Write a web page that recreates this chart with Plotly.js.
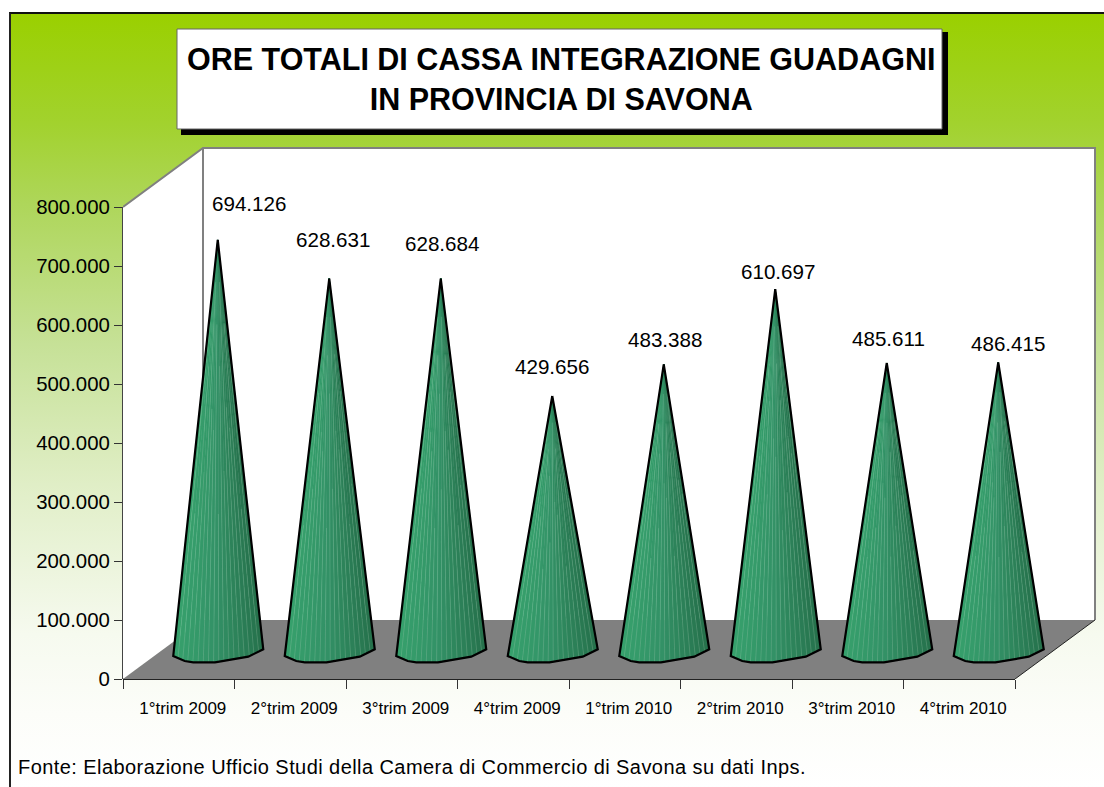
<!DOCTYPE html>
<html>
<head>
<meta charset="utf-8">
<script src="https://cdn.plot.ly/plotly-3.0.1.min.js"></script>
<style>
html,body{margin:0;padding:0;background:#fff;overflow:hidden}
#bg{position:absolute;left:9px;top:12px;width:1095px;height:775px;box-sizing:border-box;border-left:2px solid #222;border-top:2px solid #111;
background:linear-gradient(to bottom,#9ad000 0px,#a2d22e 110px,#aed65a 190px,#c6e197 330px,#e0eec6 470px,#f6faef 620px,#fcfdf9 700px,#ffffff 775px)}
#chart{position:absolute;left:0;top:0;width:1104px;height:787px}
#chart .annotation[data-index="8"] text{letter-spacing:0.43px}
</style>
</head>
<body>
<div id="bg"></div>
<div id="chart"></div>
<script>
// ---- data ----
const categories = ["1°trim 2009","2°trim 2009","3°trim 2009","4°trim 2009","1°trim 2010","2°trim 2010","3°trim 2010","4°trim 2010"];
const values = [694126,628631,628684,429656,483388,610697,485611,486415];
const yTicks = [0,100000,200000,300000,400000,500000,600000,700000,800000];
const titleText = "ORE TOTALI DI CASSA INTEGRAZIONE GUADAGNI<br>IN PROVINCIA DI SAVONA";
const sourceText = "Fonte: Elaborazione Ufficio Studi della Camera di Commercio di Savona su dati Inps.";

// ---- label nudges (pixels from cone tip) ----
const labelDx = [31,3.5,1,0,1,2.5,2,9.5];
const labelDy = [36,39,35,30,25,18,24,19.5];

// ---- geometry of the fake 3D box ----
const PX_X = 111.5, PX_Y = 0.00059;            // px per category, px per unit
const W = 1104, H = 787, L = 123, T = 144, B = 108, R = 6;
const plotW = W-L-R, plotH = H-T-B;
const xMax = plotW/PX_X, yMax = plotH/PX_Y;
const dX = 80/PX_X, dY = 59/PX_Y;              // box depth in axis units
const coneX = 39/PX_X, coneY = dY/2;           // base centre, half way into the box
const px = v => v/PX_X, py = v => -v/PX_Y;     // px offsets to axis units

// outline of the visible base of a cone, px from its centre
const baseProfile = [[-44.5,6.5],[-33,11.5],[-24.5,12.8],[-2.75,12.8],[30.5,7.2],[45.5,-0.2]];
const FACETS = 18;
const streakReach = [0.55,0.8,0.35,0.7,0.45,0.9,0.6];
function sampleBase(){
  const seg=[];let tot=0;
  for(let i=1;i<baseProfile.length;i++){const a=baseProfile[i-1],b=baseProfile[i];const l=Math.hypot(b[0]-a[0],b[1]-a[1]);seg.push(l);tot+=l;}
  const out=[];
  for(let k=0;k<=FACETS;k++){
    let d=tot*k/FACETS,i=0;
    while(i<seg.length-1&&d>seg[i]){d-=seg[i];i++;}
    const t=d/seg[i],a=baseProfile[i],b=baseProfile[i+1];
    out.push([a[0]+(b[0]-a[0])*t,a[1]+(b[1]-a[1])*t]);
  }
  return out;
}
const basePts = sampleBase();
function lerpColor(t){
  const stops=[[0,[54,160,108]],[0.45,[51,146,103]],[1,[38,114,76]]];
  let j=0; while(j<stops.length-2&&t>stops[j+1][0])j++;
  const u=(t-stops[j][0])/(stops[j+1][0]-stops[j][0]);
  const c=stops[j][1].map((v,m)=>Math.round(v+(stops[j+1][1][m]-v)*u));
  return `rgb(${c.join(",")})`;
}
const traces=[];
// one filled trace per facet shade, spanning all eight cones
for(let k=0;k<FACETS;k++){
  const xs=[],ys=[];
  values.forEach((v,i)=>{
    const cx=i+0.5+coneX;
    xs.push(cx,cx+px(basePts[k][0]),cx+px(basePts[k+1][0]),cx,null);
    ys.push(v+coneY,coneY+py(basePts[k][1]),coneY+py(basePts[k+1][1]),v+coneY,null);
  });
  const col=lerpColor(k/(FACETS-1));
  traces.push({type:"scatter",mode:"lines",x:xs,y:ys,fill:"toself",fillcolor:col,line:{color:col,width:0.5},hoverinfo:"skip",showlegend:false});
}
// light streaks on the cones
{
  const xs=[],ys=[];
  values.forEach((v,i)=>{
    const cx=i+0.5+coneX;
    for(let k=1;k<FACETS;k++){
      const f=streakReach[(k+i)%streakReach.length];
      const bx=cx+px(basePts[k][0]),by=coneY+py(basePts[k][1]);
      xs.push(bx,bx+(cx-bx)*f,null);
      ys.push(by,by+(v+coneY-by)*f,null);
    }
  });
  traces.push({type:"scatter",mode:"lines",x:xs,y:ys,line:{color:"rgba(190,235,205,0.2)",width:1},hoverinfo:"skip",showlegend:false});
}
// black outline
{
  const xs=[],ys=[];
  values.forEach((v,i)=>{
    const cx=i+0.5+coneX;
    xs.push(cx);ys.push(v+coneY);
    baseProfile.forEach(p=>{xs.push(cx+px(p[0]));ys.push(coneY+py(p[1]));});
    xs.push(cx,null);ys.push(v+coneY,null);
  });
  traces.push({type:"scatter",mode:"lines",x:xs,y:ys,line:{color:"#000",width:2.2},hoverinfo:"skip",showlegend:false});
}
const fmt = v => v.toString().replace(/\B(?=(\d{3})+$)/g,".");
const FONT="Liberation Sans, Arial, sans-serif";
const annotations = values.map((v,i)=>({
  x:i+0.5+coneX,y:v+coneY,xref:"x",yref:"y",text:fmt(v),showarrow:false,
  xanchor:"center",yanchor:"middle",xshift:labelDx[i],yshift:labelDy[i],
  font:{family:FONT,size:20.6,color:"#000"}
}));
annotations.push({xref:"paper",yref:"paper",x:(16-L)/plotW,y:(H-B-767)/plotH,xanchor:"left",yanchor:"middle",align:"left",
  text:sourceText,showarrow:false,font:{family:FONT,size:20,color:"#000"}});
annotations.push({xref:"paper",yref:"paper",x:(560.5-L)/plotW,y:(H-B-79)/plotH,xanchor:"center",yanchor:"middle",align:"center",
  text:"<b>"+titleText.replace("<br>","</b><br><b>")+"</b>",showarrow:false,font:{family:FONT,size:30.5,color:"#000"}});

const pxRect=(x0,y0,x1,y1,fill,line)=>({type:"rect",xref:"paper",yref:"paper",layer:"below",
  x0:(x0-L)/plotW,x1:(x1-L)/plotW,y0:(H-B-y0)/plotH,y1:(H-B-y1)/plotH,fillcolor:fill,line:line});
const path=(d,fill,line)=>({type:"path",xref:"x",yref:"y",layer:"below",path:d,fillcolor:fill,line:line});
const M=(pts)=>"M"+pts.map(p=>p.join(",")).join("L");
const NONE="rgba(0,0,0,0)";
const shapes=[
  pxRect(181,32,948,135,"#000",{width:0}),
  pxRect(177,29,942,129,"#fff",{color:"#666",width:1}),
  // back and side walls
  path(M([[0,0],[0,800000],[dX,800000+dY],[dX,dY]])+"Z","#fff",{width:0}),
  path(M([[dX,dY],[dX,800000+dY],[8+dX,800000+dY],[8+dX,dY]])+"Z","#fff",{width:0}),
  // floor
  path(M([[0,0],[dX,dY],[8+dX,dY],[8,0]])+"Z","#808080",{width:0}),
  // wall edges
  path(M([[0,800000],[dX,800000+dY],[8+dX,800000+dY],[8+dX,dY]]),NONE,{color:"#808080",width:2}),
  path(M([[dX,800000+dY],[dX,dY]]),NONE,{color:"#808080",width:2}),
  path(M([[8,0],[8+dX,dY]]),NONE,{color:"#222",width:1}),
  // axis lines, paper-referenced across the axis so they are not cut at the plot edge
  {type:"line",xref:"paper",yref:"y",layer:"below",x0:0,x1:0,y0:0,y1:800000,line:{color:"#444",width:2}},
  {type:"line",xref:"x",yref:"paper",layer:"below",x0:0,x1:8,y0:0,y1:0,line:{color:"#222",width:2}}
];
const layout={
  width:W,height:H,autosize:false,
  margin:{l:L,r:R,t:T,b:B,pad:0},
  paper_bgcolor:NONE,plot_bgcolor:NONE,
  separators:",.",showlegend:false,
  font:{family:FONT,color:"#000"},
  xaxis:{range:[0,xMax],showgrid:false,zeroline:false,showline:false,fixedrange:true,
    tickmode:"array",tickvals:categories.map((c,i)=>i+0.5+4/PX_X),ticktext:categories,ticks:"",tickangle:0,
    ticklabelstandoff:17,
    tickfont:{family:FONT,size:17,color:"#000"},
    minor:{tickmode:"array",tickvals:categories.map((c,i)=>i).concat([categories.length]),ticks:"outside",ticklen:9,tickwidth:1,tickcolor:"#333",showgrid:false}},
  yaxis:{range:[0,yMax],showgrid:false,zeroline:false,showline:false,fixedrange:true,
    tickmode:"array",tickvals:yTicks,tickformat:",d",ticks:"outside",ticklen:8,tickwidth:1,tickcolor:"#333",
    tickfont:{family:FONT,size:20.4,color:"#000"}},
  shapes:shapes,annotations:annotations
};
Plotly.newPlot("chart",traces,layout,{displayModeBar:false,staticPlot:true});
</script>
</body>
</html>
